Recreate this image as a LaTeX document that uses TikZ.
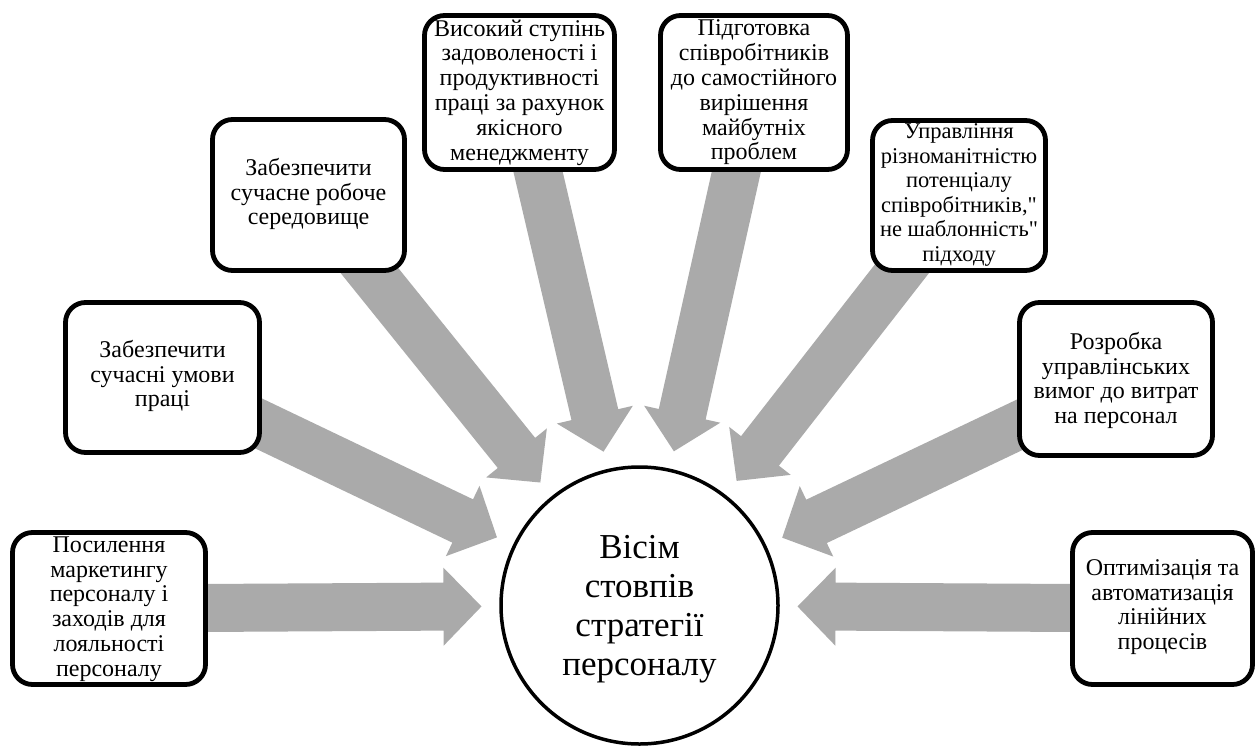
\documentclass[tikz,border=0pt]{standalone}
\usepackage{fontspec}
\setmainfont{Liberation Serif}
\newfontfamily\timesf{Liberation Serif}
\usetikzlibrary{calc,backgrounds}
\definecolor{arrowgray}{RGB}{170,170,170}
\tikzset{
  box/.style={draw=black, line width=4.8pt, rounded corners=20pt, fill=white, inner sep=0pt},
  boxtext/.style={align=center, inner sep=0pt, font=\timesf\fontsize{24}{24.8}\selectfont},
  smalltext/.style={align=center, inner sep=0pt, font=\timesf\fontsize{22.5}{24.5}\selectfont},
  hub/.style={circle, draw=black, line width=3.5pt, fill=white, minimum size=277pt, inner sep=0pt},
  hubtext/.style={align=center, inner sep=0pt, font=\timesf\fontsize{35}{39}\selectfont}
}
\newcommand\blockarrow[3]{%
  \coordinate (#3) at ($(#2)!38pt!(#1)$);
  \fill[arrowgray] ($(#1)!24pt!90:(#2)$) -- ($(#3)!24pt!90:(#2)$) -- ($(#3)!39pt!90:(#2)$) -- (#2)
    -- ($(#3)!39pt!-90:(#2)$) -- ($(#3)!24pt!-90:(#2)$) -- ($(#1)!24pt!-90:(#2)$) -- cycle;
}
\begin{document}
\begin{tikzpicture}[x=1pt, y=-1pt]
\useasboundingbox (0,0) rectangle (1260,747);

% hub
\node[hub] (c) at (639.5,605.5) {};
\node[hubtext] (ct) at (639.5,609) {Вісім\\стовпів\\стратегії\\персоналу};

% boxes
\node[box, minimum width=193pt, minimum height=152pt] (b1) at (109,608.5) {};
\node[boxtext] (t1x) at (109,609) {Посилення\\маркетингу\\персоналу і\\заходів для\\лояльності\\персоналу};

\node[box, minimum width=194pt, minimum height=150pt] (b2) at (162.5,377.5) {};
\node[boxtext] (t2x) at (162.5,376) {Забезпечити\\сучасні умови\\праці};

\node[box, minimum width=192pt, minimum height=151pt] (b3) at (308.5,195) {};
\node[boxtext] (t3x) at (308.5,194) {Забезпечити\\сучасне робоче\\середовище};

\node[box, minimum width=190pt, minimum height=154pt] (b4) at (519.5,92.5) {};
\node[boxtext] (t4x) at (519.5,92.5) {Високий ступінь\\задоволеності і\\продуктивності\\праці за рахунок\\якісного\\менеджменту};

\node[box, minimum width=187pt, minimum height=154pt] (b5) at (754,92.5) {};
\node[boxtext] (t5x) at (754,92.5) {Підготовка\\співробітників\\до самостійного\\вирішення\\майбутніх\\проблем};

\node[box, minimum width=173pt, minimum height=150pt] (b6) at (959,195.5) {};
\node[smalltext] (t6x) at (959,195) {Управління\\різноманітністю\\потенціалу\\співробітників,\textquotedbl\\не шаблонність\textquotedbl\\підходу};

\node[box, minimum width=193pt, minimum height=153pt] (b7) at (1116,379) {};
\node[boxtext] (t7x) at (1116,380.5) {Розробка\\управлінських\\вимог до витрат\\на персонал};

\node[box, minimum width=180pt, minimum height=152pt] (b8) at (1162.5,608.5) {};
\node[boxtext] (t8x) at (1162.5,607) {Оптимізація та\\автоматизація\\лінійних\\процесів};

% arrow tips
\foreach \i in {1,...,8} {
  \coordinate (tip\i) at ($(c.center)!158pt!(b\i.center)$);
}

\begin{pgfonlayer}{background}
\fill[white] (0,0) rectangle (1260,747);
\blockarrow{b1.center}{tip1}{base1}
\blockarrow{b2.center}{tip2}{base2}
\blockarrow{b3.center}{tip3}{base3}
\blockarrow{b4.center}{tip4}{base4}
\blockarrow{b5.center}{tip5}{base5}
\blockarrow{b6.center}{tip6}{base6}
\blockarrow{b7.center}{tip7}{base7}
\blockarrow{b8.center}{tip8}{base8}
\end{pgfonlayer}
\end{tikzpicture}
\end{document}
